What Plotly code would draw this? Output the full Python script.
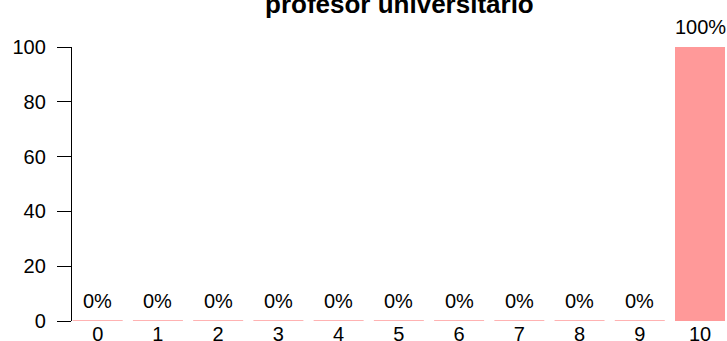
import plotly.graph_objects as go

categories = ["0", "1", "2", "3", "4", "5", "6", "7", "8", "9", "10"]
values = [0, 0, 0, 0, 0, 0, 0, 0, 0, 0, 100]
labels = ["0%", "0%", "0%", "0%", "0%", "0%", "0%", "0%", "0%", "0%", "100%"]
title_text = "profesor universitario"
y_ticks = [0, 20, 40, 60, 80, 100]

FONT = "Liberation Sans, Arial, sans-serif"
BAR_COLOR = "#FF9999"
BAR_W = 0.83

xs = list(range(len(categories)))

fig = go.Figure()
fig.add_trace(go.Bar(
    x=xs, y=values, width=BAR_W,
    marker=dict(color=BAR_COLOR, line=dict(width=0)),
    hoverinfo="skip", showlegend=False,
))

# zero-height bars drawn as their outline (flat line at the value)
lx, ly = [], []
for x, v in zip(xs, values):
    if v == 0:
        lx += [x - BAR_W / 2, x + BAR_W / 2, None]
        ly += [v, v, None]
fig.add_trace(go.Scatter(
    x=lx, y=ly, mode="lines",
    line=dict(color=BAR_COLOR, width=1.5),
    hoverinfo="skip", showlegend=False, cliponaxis=False,
))

for x, v, t in zip(xs, values, labels):
    fig.add_annotation(
        x=x, y=v, text=t, showarrow=False, yanchor="bottom",
        yshift=7, font=dict(family=FONT, size=20, color="black"),
    )

fig.add_annotation(
    xref="paper", yref="paper", x=0.5, y=1, yanchor="bottom", yshift=26,
    text="<b>" + title_text + "</b>", showarrow=False,
    font=dict(family=FONT, size=26, color="black"),
)

fig.update_layout(
    width=727, height=341,
    margin=dict(l=72, r=0, t=47, b=20, pad=0, autoexpand=False),
    paper_bgcolor="white", plot_bgcolor="white",
    font=dict(family=FONT, size=20, color="black"),
    bargap=0,
    xaxis=dict(
        range=[-0.4267, 10.448], tickmode="array", tickvals=xs,
        ticktext=categories, showgrid=False, zeroline=False,
        showline=False, ticks="", ticklabelstandoff=-1, automargin=False,
        tickfont=dict(family=FONT, size=20, color="black"),
    ),
    yaxis=dict(
        range=[0, 100], tickmode="array", tickvals=y_ticks,
        ticktext=[str(t) for t in y_ticks], showgrid=False, zeroline=False,
        showline=True, linecolor="black", linewidth=1.3,
        ticks="outside", ticklen=14, tickwidth=1.3, tickcolor="black",
        ticklabelstandoff=7, automargin=False,
        tickfont=dict(family=FONT, size=20, color="black"),
    ),
)

fig.write_html(
    "out.html",
    config={"displayModeBar": False},
    post_script="document.body.style.margin='0';"
                "document.documentElement.style.overflow='hidden';",
)
